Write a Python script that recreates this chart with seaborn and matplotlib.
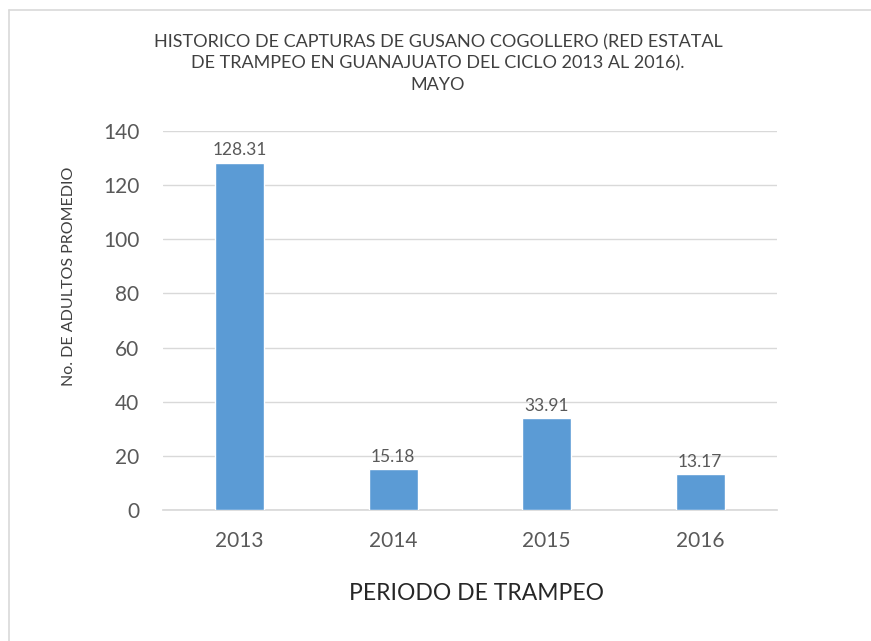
import pandas as pd
import matplotlib.pyplot as plt
from matplotlib.lines import Line2D
import seaborn as sns

# data
years = ["2013", "2014", "2015", "2016"]
adults = [128.31, 15.18, 33.91, 13.17]
y_ticks = [0, 20, 40, 60, 80, 100, 120, 140]

title = ("HISTORICO DE CAPTURAS DE GUSANO COGOLLERO (RED ESTATAL\n"
         "DE TRAMPEO EN GUANAJUATO DEL CICLO 2013 AL 2016).\n"
         "MAYO")

sns.set_theme(style="white")
plt.rcParams['font.family'] = ['Lato', 'DejaVu Sans']

df = pd.DataFrame({"year": years, "adults": adults})

fig = plt.figure(figsize=(8.71, 6.41), dpi=100)
ax = fig.add_axes([0.187, 0.2044, 0.705, 0.5912])

sns.barplot(data=df, x="year", y="adults", color="#5B9BD5", width=0.32,
            saturation=1, ax=ax, zorder=3)

for container in ax.containers:
    ax.bar_label(container, labels=[f"{v:.2f}" for v in adults], padding=3,
                 fontsize=12.5, color="#595959")

ax.set_ylim(0, 140)
ax.set_xlim(-0.5, 3.5)
ax.set_yticks(y_ticks)
ax.yaxis.grid(True, color="#D9D9D9", linewidth=1, zorder=0)
for side in ["top", "right", "left"]:
    ax.spines[side].set_visible(False)
ax.spines["bottom"].set_color("#D9D9D9")
ax.tick_params(axis="both", length=0, labelsize=15, labelcolor="#595959")
ax.tick_params(axis="y", pad=17)
ax.tick_params(axis="x", pad=15)

ax.set_xlabel("PERIODO DE TRAMPEO", fontsize=16.5, color="#262626")
ax.xaxis.set_label_coords(0.51, -0.193)
ax.set_ylabel("No. DE ADULTOS PROMEDIO", fontsize=11.5, color="#404040")
ax.yaxis.set_label_coords(-0.142, 0.617)

fig.text(0.503, 0.947, title, ha="center", va="top",
         fontsize=13, color="#404040", linespacing=1.42)

# chart area border (only top and left edges show in the image)
fig.add_artist(Line2D([9 / 871, 1.0], [1 - 10 / 641, 1 - 10 / 641],
                      transform=fig.transFigure, color="#D9D9D9", linewidth=1.2))
fig.add_artist(Line2D([9 / 871, 9 / 871], [0.0, 1 - 10 / 641],
                      transform=fig.transFigure, color="#D9D9D9", linewidth=1.2))

fig.savefig("out.png", dpi=100)
plt.close(fig)
